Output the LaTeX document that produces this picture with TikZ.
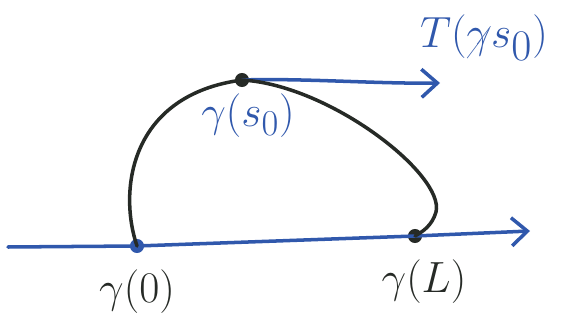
\documentclass[tikz,border=0pt]{standalone}
\definecolor{penblue}{RGB}{48, 88, 172}
\definecolor{penblack}{RGB}{38, 42, 38}
\usepackage{amsmath, amssymb}
\usepackage{cancel}
\usetikzlibrary{arrows.meta, positioning, calc}
\tikzset{
  curveline/.style={draw=penblack, line width=2pt, line cap=round},
  axisline/.style={draw=penblue, line width=2pt, line cap=round, -{Straight Barb[length=9pt, width=16pt, line width=2pt]}},
  ptdot/.style={circle, inner sep=0pt, minimum size=8pt},
  biglabel/.style={font=\fontsize{29}{33}\selectfont}
}

\begin{document}
\begin{tikzpicture}[x=0.02cm, y=-0.02cm]
  \useasboundingbox (0,0) rectangle (574,334);

  % points on the curve
  \node[ptdot, fill=penblue] (g0) at (137,246) {};
  \node[ptdot, fill=penblack] (gL) at (415,236) {};
  \node[ptdot, fill=penblack] (gs) at (242,80) {};
  \coordinate (axL) at (8,247);
  \coordinate (axR) at (530,231);
  \coordinate (tanR) at (440,83);

  % base line and tangent
  \draw[axisline] (axL) -- (g0.center) -- (gL.center) -- (axR);
  \draw[axisline] (gs.center) .. controls (300,78) and (380,84) .. (tanR);

  % the curve
  \draw[curveline] (g0.center) .. controls (118,190) and (130,95) .. (gs.center)
    .. controls (330,85) and (445,175) .. (436,212)
    .. controls (432,226) and (422,232) .. (gL.center);

  % labels
  \node[biglabel, text=penblack] (lg0) at (137,292) {$\gamma(0)$};
  \node[biglabel, text=penblack] (lgL) at (424,282) {$\gamma(L)$};
  \node[biglabel, text=penblue] (lgs) at (248,116) {$\gamma(s_0)$};
  \node[text=penblue, font=\fontsize{35}{40}\selectfont] (lT) at (484,38) {$T(\cancel{\gamma}s_0)$};
\end{tikzpicture}
\end{document}
